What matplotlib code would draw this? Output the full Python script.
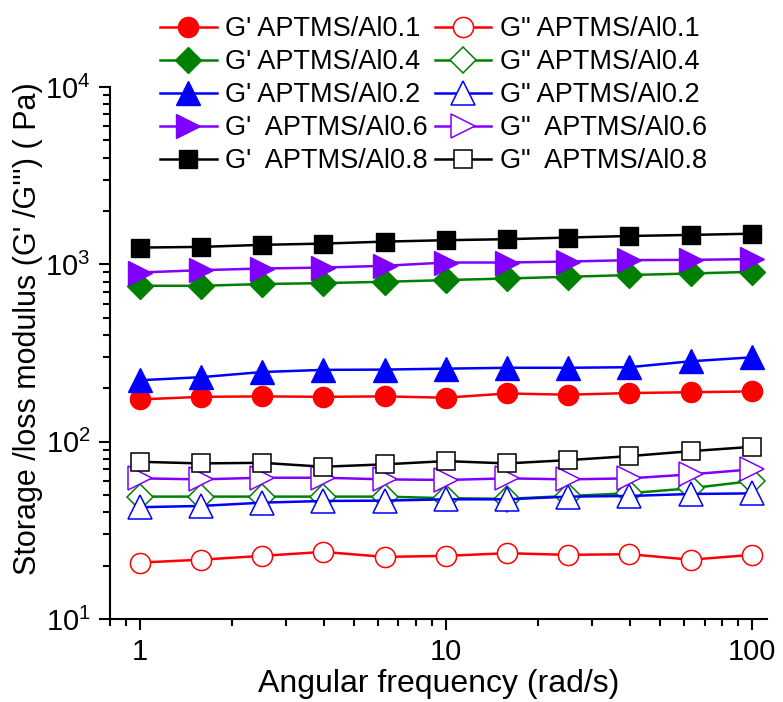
import matplotlib
matplotlib.use("Agg")
import matplotlib.pyplot as plt
from matplotlib.ticker import LogLocator, NullFormatter, FixedLocator, FixedFormatter

plt.rcParams['font.family'] = ['Liberation Sans', 'DejaVu Sans']
plt.rcParams['mathtext.fontset'] = 'custom'
plt.rcParams['mathtext.rm'] = 'Liberation Sans'
plt.rcParams['mathtext.it'] = 'Liberation Sans'

freq = [1.0, 1.585, 2.512, 3.981, 6.310, 10.0, 15.85, 25.12, 39.81, 63.10, 100.0]

gp_01 = [173, 179, 180, 179, 180, 177, 187, 184, 188, 190, 192]
gpp_01 = [20.8, 21.6, 22.7, 23.9, 22.4, 22.7, 23.5, 23.0, 23.2, 21.6, 23.0]
gp_04 = [757, 757, 774, 784, 797, 815, 832, 851, 870, 888, 907]
gpp_04 = [49.0, 49.0, 49.0, 49.0, 49.0, 48.0, 47.6, 49.4, 51.2, 54.6, 60.0]
gp_02 = [222, 231, 247, 254, 255, 258, 261, 261, 263, 284, 299]
gpp_02 = [42.7, 43.4, 45.3, 46.3, 46.5, 47.3, 47.3, 49.0, 49.4, 50.7, 51.1]
gp_06 = [899, 927, 947, 959, 981, 1024, 1024, 1037, 1056, 1060, 1070]
gpp_06 = [62.1, 61.3, 62.6, 62.6, 61.3, 60.8, 62.1, 61.3, 62.1, 65.4, 69.8]
gp_08 = [1243, 1254, 1288, 1309, 1343, 1368, 1386, 1416, 1445, 1465, 1489]
gpp_08 = [77.0, 75.4, 76.0, 72.2, 74.5, 77.7, 75.4, 78.7, 82.9, 88.4, 93.5]

labels_gp = ["G' APTMS/Al0.1", "G' APTMS/Al0.4", "G' APTMS/Al0.2",
             "G'  APTMS/Al0.6", "G'  APTMS/Al0.8"]
labels_gpp = ['G" APTMS/Al0.1', 'G" APTMS/Al0.4', 'G" APTMS/Al0.2',
              'G"  APTMS/Al0.6', 'G"  APTMS/Al0.8']
colors = ['#FF0000', '#008000', '#0000FF', '#8000FF', '#000000']
markers = ['o', 'D', '^', '>', 's']
msizes = [14.5, 13.0, 17.0, 17.0, 12.5]

gp_all = [gp_01, gp_04, gp_02, gp_06, gp_08]
gpp_all = [gpp_01, gpp_04, gpp_02, gpp_06, gpp_08]

fig = plt.figure(figsize=(7.83, 7.02), dpi=100)
ax = fig.add_axes([110/783, 1-619/702, (767-110)/783, (619-87)/702])

h_gp, h_gpp = [], []
for i in range(5):
    l1, = ax.plot(freq, gp_all[i], color=colors[i], marker=markers[i], ms=msizes[i],
                  mfc=colors[i], mec=colors[i], lw=1.8, label=labels_gp[i])
    h_gp.append(l1)
for i in range(5):
    l2, = ax.plot(freq, gpp_all[i], color=colors[i], marker=markers[i], ms=msizes[i],
                  mfc='white', mec=colors[i], mew=1.1, lw=1.8, label=labels_gpp[i])
    h_gpp.append(l2)

ax.set_xscale('log')
ax.set_yscale('log')
ax.set_xlim(0.8, 112)
ax.set_ylim(10, 1e4)

for s in ['top', 'right']:
    ax.spines[s].set_visible(False)
for s in ['left', 'bottom']:
    ax.spines[s].set_linewidth(1.5)

ax.xaxis.set_major_locator(FixedLocator([1, 10, 100]))
ax.xaxis.set_major_formatter(FixedFormatter(['1', '10', '100']))
ax.xaxis.set_minor_locator(LogLocator(base=10, subs=range(2, 10)))
ax.xaxis.set_minor_formatter(NullFormatter())
ax.yaxis.set_major_locator(LogLocator(base=10, numticks=10))
ax.yaxis.set_minor_locator(LogLocator(base=10, subs=range(2, 10), numticks=10))
ax.yaxis.set_minor_formatter(NullFormatter())

ax.tick_params(which='major', direction='out', length=8, width=1.5, labelsize=21, pad=6)
ax.tick_params(which='minor', direction='out', length=5, width=1.5)

ax.set_xlabel('Angular frequency (rad/s)', fontsize=23, labelpad=2)
ax.set_ylabel("Storage /loss modulus (G' /G''') ( Pa)", fontsize=22)
ax.yaxis.set_label_coords(-0.102, 0.546)

handles = []
labs = []
for i in range(5):
    handles += [h_gp[i]]
    labs += [labels_gp[i]]
for i in range(5):
    handles += [h_gpp[i]]
    labs += [labels_gpp[i]]
fig.legend(handles, labs, ncol=2, loc='upper left', bbox_to_anchor=(160/783, 1-16/702),
           frameon=False, fontsize=19.5, handlelength=2.1, handletextpad=0.3,
           labelspacing=0.26, columnspacing=0.25, borderpad=0, borderaxespad=0)

fig.savefig('out.png', dpi=100)
